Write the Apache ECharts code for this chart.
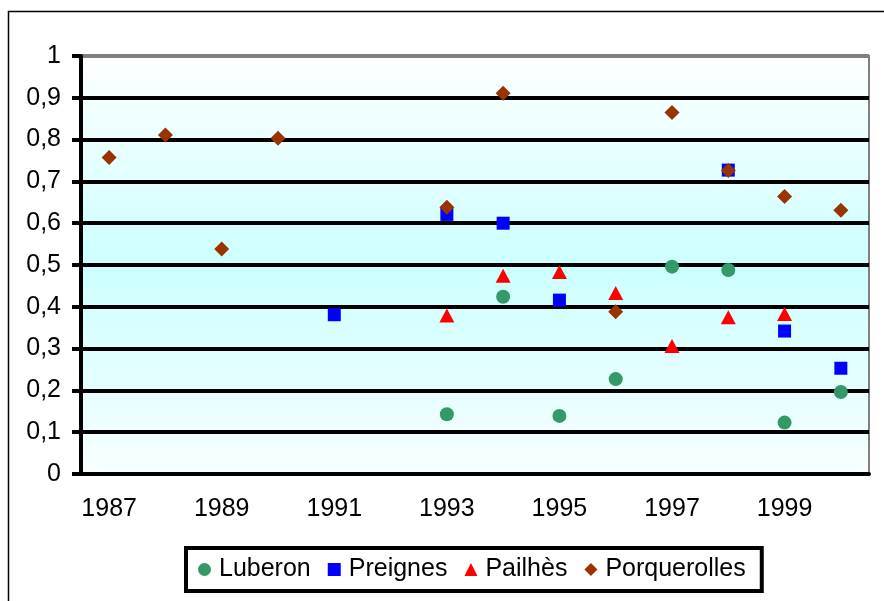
<!DOCTYPE html>
<html><head><meta charset="utf-8">
<script src="https://cdn.jsdelivr.net/npm/echarts@6/dist/echarts.min.js"></script>
<style>html,body{margin:0;padding:0;background:#fff}#c{width:884px;height:601px}</style>
</head><body><div id="c"></div>
<script>
const years = ['1987','1988','1989','1990','1991','1992','1993','1994','1995','1996','1997','1998','1999','2000'];
const yTicks = [0,0.1,0.2,0.3,0.4,0.5,0.6,0.7,0.8,0.9,1];
const luberon      = [null,null,null,null,null,null,0.143,0.424,0.139,0.227,0.496,0.488,0.123,0.196];
const preignes     = [null,null,null,null,0.381,null,0.621,0.600,0.416,null,null,0.727,0.342,0.253];
const pailhes      = [null,null,null,null,null,null,0.379,0.474,0.483,0.433,0.306,0.375,0.383,null];
const porquerolles = [0.757,0.811,0.538,0.803,null,null,0.638,0.911,null,0.388,0.865,0.726,0.664,0.631];

function pairs(arr){ const out=[]; arr.forEach((v,i)=>{ if(v!==null) out.push([years[i], v]); }); return out; }
const FONT = '"Liberation Sans", Arial, sans-serif';
const chart = echarts.init(document.getElementById('c'), null, {renderer:'canvas'});
chart.setOption({
  animation:false,
  textStyle:{fontFamily:FONT},
  grid:{left:81,right:15,top:56,bottom:127,show:true,borderColor:'#808080',borderWidth:2,
    backgroundColor:new echarts.graphic.LinearGradient(0,0,0,1,[
      {offset:0,color:'#ffffff'},{offset:0.5,color:'#ccffff'},{offset:1,color:'#f8ffff'}])},
  graphic:[{type:'rect',shape:{x:8.5,y:11.5,width:900,height:600},style:{fill:null,stroke:'#000',lineWidth:1.5},z:100}],
  legend:{left:186,top:548,orient:'horizontal',padding:[9,16,9,12],itemGap:17,itemWidth:13,itemHeight:13,
    borderColor:'#000',borderWidth:4,backgroundColor:'#fff',
    textStyle:{fontSize:25,color:'#000',fontFamily:FONT,padding:[0,0,0,3]},
    data:['Luberon','Preignes','Pailhès','Porquerolles']},
  xAxis:{type:'category',data:years,boundaryGap:true,
    axisLine:{lineStyle:{color:'#000',width:4}},
    axisTick:{interval:2,length:8,lineStyle:{color:'#000',width:4}},
    axisLabel:{interval:1,fontSize:25,color:'#000',margin:23,fontFamily:FONT},
    splitLine:{show:false}},
  yAxis:{type:'value',min:0,max:1,interval:0.1,
    axisLine:{show:true,lineStyle:{color:'#000',width:4}},
    axisTick:{show:true,length:9,lineStyle:{color:'#000',width:4}},
    axisLabel:{fontSize:25,color:'#000',margin:20,fontFamily:FONT,
      formatter:v=>{const t=yTicks.find(x=>Math.abs(x-v)<1e-9); return String(t===undefined?v:t).replace('.',',');}},
    splitLine:{show:true,lineStyle:{color:['#000','#000','#000','#000','#000','#000','#000','#000','#000','#000','#808080'],width:4}}},
  series:[
    {name:'Luberon',type:'scatter',symbol:'circle',symbolSize:14,itemStyle:{color:'#339966',opacity:1},data:pairs(luberon)},
    {name:'Preignes',type:'scatter',symbol:'rect',symbolSize:13,itemStyle:{color:'#0000ff',opacity:1},data:pairs(preignes)},
    {name:'Pailhès',type:'scatter',symbol:'triangle',symbolSize:[15,14],itemStyle:{color:'#ff0000',opacity:1},data:pairs(pailhes)},
    {name:'Porquerolles',type:'scatter',symbol:'diamond',symbolSize:15,itemStyle:{color:'#993300',opacity:1},data:pairs(porquerolles)}
  ]
});
</script></body></html>
